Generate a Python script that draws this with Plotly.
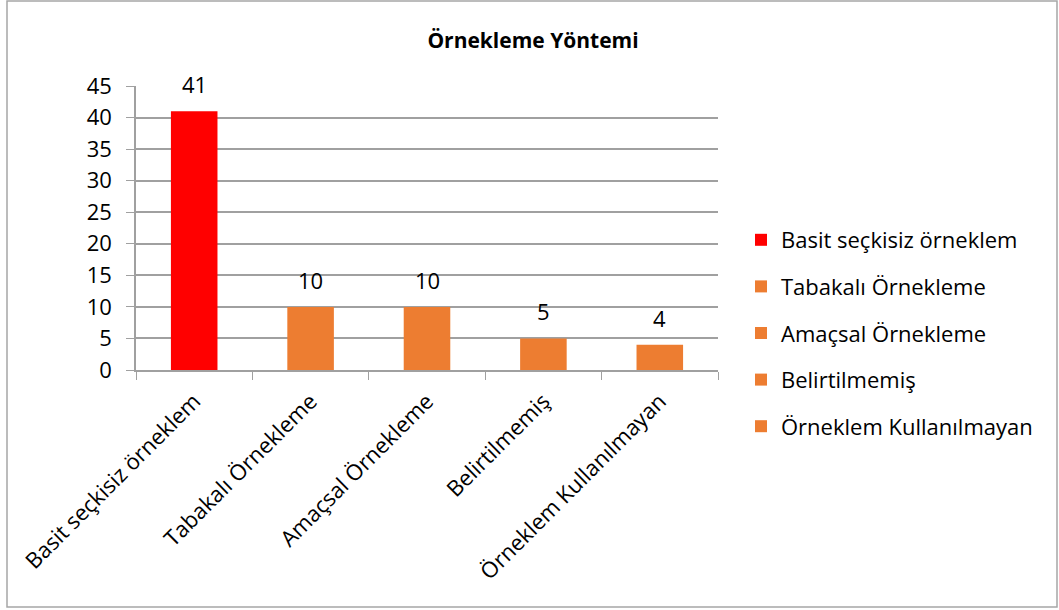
import plotly.graph_objects as go

categories = ["Basit seçkisiz örneklem", "Tabakalı Örnekleme", "Amaçsal Örnekleme",
              "Belirtilmemiş", "Örneklem Kullanılmayan"]
values = [41, 10, 10, 5, 4]
colors = ["#FF0000", "#ED7D31", "#ED7D31", "#ED7D31", "#ED7D31"]
y_ticks = [0, 5, 10, 15, 20, 25, 30, 35, 40, 45]

FONT = "Open Sans"
FS = 22
W, H = 1059, 610
L, R, T, B = 136, 718, 86, 370

fig = go.Figure()
for i, (c, v, col) in enumerate(zip(categories, values, colors)):
    fig.add_trace(go.Bar(
        x=[c], y=[v], name=c, marker=dict(color=col, line=dict(width=0)),
        width=0.4, legendgroup=f"g{i}",
    ))
    fig.add_annotation(x=c, y=v, text=str(v), showarrow=False, yanchor="bottom",
                       yshift=10, font=dict(family=FONT, size=FS, color="#000000"))

pw, ph = R - L, B - T
fig.add_shape(type="rect", xref="paper", yref="paper",
              x0=(7 - L) / pw, x1=(1057 - L) / pw,
              y0=(B - 607) / ph, y1=(B - 1) / ph,
              line=dict(color="#A6A6A6", width=1.5), layer="below")

fig.update_layout(
    width=W, height=H,
    margin=dict(l=L, r=W - R, t=T, b=H - B, autoexpand=False),
    paper_bgcolor="white", plot_bgcolor="white",
    barmode="overlay",
    title=dict(text="<b>Örnekleme Yöntemi</b>", x=533 / W, xanchor="center",
               y=1 - 41 / H, yanchor="middle", xref="container", yref="container",
               font=dict(family=FONT, size=21, color="#000000")),
    font=dict(family=FONT, size=FS, color="#000000"),
    showlegend=True,
    legend=dict(x=(741 - L) / pw, xanchor="left", y=(B - 219) / ph, yanchor="top",
                font=dict(family=FONT, size=FS, color="#000000"),
                tracegroupgap=15, itemwidth=30, bgcolor="rgba(0,0,0,0)"),
    xaxis=dict(type="category", categoryorder="array", categoryarray=categories,
               tickangle=-45, ticks="outside", tickson="boundaries", ticklen=8,
               ticklabelstandoff=8,
               tickcolor="#A0A0A0", showline=True, linecolor="#A0A0A0", linewidth=1.5,
               showgrid=False, tickfont=dict(family=FONT, size=FS, color="#000000")),
    yaxis=dict(range=[0, 45], tickvals=y_ticks, ticks="outside", ticklen=8,
               ticklabelstandoff=10,
               tickcolor="#A0A0A0", showline=True, linecolor="#A0A0A0", linewidth=1.5,
               showgrid=True, gridcolor="#A0A0A0", gridwidth=1.5, zeroline=False,
               tickfont=dict(family=FONT, size=FS, color="#000000")),
)

fig.write_html("out.html", config={"displayModeBar": False},
               post_script="document.body.style.margin='0px';")
